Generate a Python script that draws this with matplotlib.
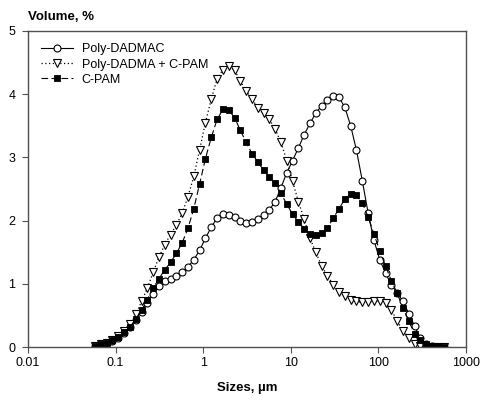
import matplotlib
matplotlib.use("Agg")
import matplotlib.pyplot as plt
from matplotlib.ticker import FixedLocator, FixedFormatter, NullLocator

plt.rcParams['font.family'] = ['Liberation Sans', 'DejaVu Sans']

# Particle size classes, µm
sizes = [0.058, 0.068, 0.079, 0.092, 0.107, 0.125, 0.146, 0.170, 0.198, 0.230,
         0.268, 0.312, 0.364, 0.424, 0.494, 0.576, 0.671, 0.781, 0.910, 1.06,
         1.24, 1.44, 1.68, 1.95, 2.28, 2.65, 3.09, 3.60, 4.19, 4.88,
         5.69, 6.63, 7.72, 9.00, 10.48, 12.21, 14.22, 16.57, 19.31, 22.49,
         26.20, 30.53, 35.56, 41.43, 48.27, 56.23, 65.51, 76.32, 88.91, 103.58,
         120.67, 140.58, 163.77, 190.80, 222.28, 258.95, 301.68, 351.46, 409.45, 477.01,
         555.71]

# Volume fractions, %
poly_dadmac = [0.02, 0.04, 0.06, 0.10, 0.15, 0.22, 0.31, 0.43, 0.56, 0.70,
               0.84, 0.97, 1.04, 1.08, 1.13, 1.19, 1.27, 1.38, 1.53, 1.72,
               1.90, 2.04, 2.10, 2.09, 2.05, 2.00, 1.96, 1.97, 2.02, 2.09,
               2.17, 2.30, 2.52, 2.76, 2.95, 3.15, 3.36, 3.54, 3.70, 3.82,
               3.91, 3.97, 3.95, 3.79, 3.50, 3.11, 2.63, 2.12, 1.69, 1.38,
               1.17, 0.98, 0.86, 0.72, 0.53, 0.33, 0.14, 0.04, 0.01, 0.00,
               0.00]

poly_dadma_cpam = [0.02, 0.04, 0.07, 0.11, 0.17, 0.25, 0.36, 0.52, 0.72, 0.93,
                   1.18, 1.42, 1.62, 1.78, 1.93, 2.12, 2.38, 2.70, 3.12, 3.55,
                   3.93, 4.24, 4.39, 4.45, 4.38, 4.21, 4.05, 3.93, 3.78, 3.70,
                   3.60, 3.45, 3.24, 2.95, 2.62, 2.30, 2.02, 1.72, 1.50, 1.28,
                   1.13, 0.98, 0.87, 0.80, 0.75, 0.72, 0.71, 0.71, 0.72, 0.73,
                   0.69, 0.59, 0.41, 0.26, 0.14, 0.05, 0.01, 0.00, 0.00, 0.00,
                   0.00]

c_pam = [0.02, 0.04, 0.07, 0.11, 0.16, 0.23, 0.32, 0.44, 0.58, 0.75,
         0.93, 1.08, 1.22, 1.34, 1.48, 1.65, 1.88, 2.19, 2.58, 2.98,
         3.32, 3.60, 3.76, 3.75, 3.63, 3.43, 3.24, 3.06, 2.93, 2.80,
         2.69, 2.59, 2.43, 2.26, 2.10, 1.98, 1.87, 1.79, 1.77, 1.81,
         1.88, 2.04, 2.19, 2.34, 2.42, 2.40, 2.28, 2.06, 1.79, 1.52,
         1.28, 1.05, 0.85, 0.62, 0.41, 0.21, 0.11, 0.05, 0.02, 0.01,
         0.00]

series_labels = ["Poly-DADMAC", "Poly-DADMA + C-PAM", "C-PAM"]
x_ticks = [0.01, 0.1, 1, 10, 100, 1000]
x_tick_labels = ["0.01", "0.1", "1", "10", "100", "1000"]
y_ticks = [0, 1, 2, 3, 4, 5]

fig = plt.figure(figsize=(4.85, 4.0), dpi=100)
ax = fig.add_axes([28 / 485, 53 / 400, 438 / 485, 316 / 400])

ax.plot(sizes, poly_dadmac, color='black', linestyle='-', linewidth=0.8,
        marker='o', markersize=5, markerfacecolor='white',
        markeredgecolor='black', markeredgewidth=0.8, label=series_labels[0])
ax.plot(sizes, poly_dadma_cpam, color='black', linestyle=(0, (1, 2)), linewidth=0.9,
        marker='v', markersize=5.5, markerfacecolor='white',
        markeredgecolor='black', markeredgewidth=0.8, label=series_labels[1])
ax.plot(sizes, c_pam, color='black', linestyle=(0, (6, 3)), linewidth=0.8,
        marker='s', markersize=4.6, markerfacecolor='black',
        markeredgecolor='black', markeredgewidth=0.6, label=series_labels[2])

ax.set_xscale('log')
ax.set_xlim(0.01, 1000)
ax.set_ylim(0, 5)
ax.xaxis.set_major_locator(FixedLocator(x_ticks))
ax.xaxis.set_major_formatter(FixedFormatter(x_tick_labels))
ax.xaxis.set_minor_locator(NullLocator())
ax.set_yticks(y_ticks)
ax.set_yticklabels([str(v) for v in y_ticks])

for side in ax.spines.values():
    side.set_color('#505050')
    side.set_linewidth(1.0)
ax.tick_params(axis='both', which='major', direction='out', length=4,
               width=0.8, color='#505050', labelsize=9, labelcolor='black')
ax.tick_params(axis='x', pad=3)
ax.tick_params(axis='y', pad=5)

fig.text(28 / 485, 1 - 20 / 400, "Volume, %", ha='left', va='baseline',
         fontsize=9.5, fontweight='bold')
fig.text(247 / 485, 1 - 391 / 400, "Sizes, µm", ha='center', va='baseline',
         fontsize=9.5, fontweight='bold')

leg = ax.legend(loc='upper left', bbox_to_anchor=(0.0, 1.0), frameon=False,
                fontsize=9, handlelength=2.6, handletextpad=0.7,
                labelspacing=0.25, borderaxespad=0.6)

fig.savefig("out.png", dpi=100)
